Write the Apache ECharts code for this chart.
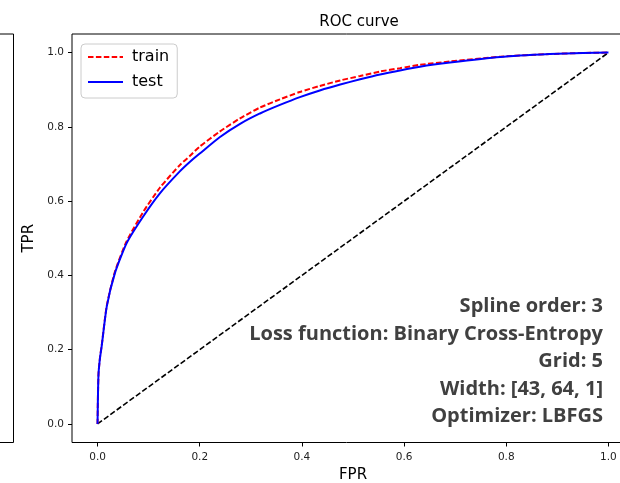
<!DOCTYPE html>
<html>
<head>
<meta charset="utf-8">
<title>ROC curve</title>
<script src="https://cdn.jsdelivr.net/npm/echarts@6/dist/echarts.min.js"></script>
<style>
  html, body { margin: 0; padding: 0; background: #fff; }
  #chart { width: 620px; height: 483px; }
</style>
</head>
<body>
<div id="chart"></div>
<script>
// ROC points for the training set
const fprTrain = [0, 0.0005, 0.001, 0.002, 0.005, 0.008, 0.018, 0.034, 0.057, 0.089, 0.122, 0.161, 0.181, 0.200, 0.239, 0.279, 0.318, 0.357, 0.396, 0.435, 0.475, 0.514, 0.553, 0.592, 0.631, 0.690, 0.788, 0.885, 0.950, 1];
const tprTrain = [0, 0.05, 0.09, 0.138, 0.182, 0.210, 0.318, 0.410, 0.492, 0.570, 0.636, 0.697, 0.722, 0.747, 0.787, 0.823, 0.852, 0.874, 0.894, 0.910, 0.925, 0.937, 0.949, 0.958, 0.967, 0.976, 0.989, 0.996, 0.999, 1];

// ROC points for the test set
const fprTest = [0, 0.0005, 0.001, 0.002, 0.005, 0.008, 0.018, 0.034, 0.057, 0.089, 0.122, 0.161, 0.181, 0.200, 0.239, 0.279, 0.318, 0.357, 0.396, 0.435, 0.475, 0.514, 0.553, 0.592, 0.631, 0.690, 0.788, 0.885, 0.950, 1];
const tprTest = [0, 0.05, 0.09, 0.137, 0.180, 0.208, 0.316, 0.406, 0.487, 0.558, 0.621, 0.680, 0.706, 0.728, 0.772, 0.808, 0.836, 0.859, 0.880, 0.898, 0.914, 0.928, 0.941, 0.952, 0.962, 0.973, 0.988, 0.996, 0.999, 1];

// chance line
const chanceFpr = [0, 1];
const chanceTpr = [0, 1];

const tickValues = [0, 0.2, 0.4, 0.6, 0.8, 1.0];

const infoLines = [
  'Spline order: 3',
  'Loss function: Binary Cross-Entropy',
  'Grid: 5',
  'Width: [43, 64, 1]',
  'Optimizer: LBFGS'
];

const pairs = (xs, ys) => xs.map((x, i) => [x, ys[i]]);

const tickFont = { fontFamily: 'DejaVu Sans', fontSize: 10.5, color: '#222' };
const dash = [5.5, 2.4];

const chart = echarts.init(document.getElementById('chart'), null, { renderer: 'canvas' });

chart.setOption({
  animation: false,
  backgroundColor: '#fff',
  title: {
    text: 'ROC curve',
    left: 354,
    top: 10,
    textAlign: 'center',
    textStyle: { fontFamily: 'DejaVu Sans', fontSize: 15, fontWeight: 'normal', color: '#000' }
  },
  legend: {
    orient: 'vertical',
    left: 81,
    top: 44,
    data: ['train', 'test'],
    itemWidth: 35,
    itemHeight: 14,
    itemGap: 9,
    padding: [5, 8, 8, 6],
    itemStyle: { opacity: 0 },
    backgroundColor: 'rgba(255,255,255,0.8)',
    borderColor: '#cccccc',
    borderWidth: 1,
    borderRadius: 4,
    textStyle: { fontFamily: 'DejaVu Sans', fontSize: 16, color: '#000', padding: [0, 0, 0, 4] }
  },
  grid: [
    {
      left: 72, top: 34, width: 562, height: 408.5,
      outerBoundsMode: 'none',
      show: true, borderColor: '#000', borderWidth: 1, backgroundColor: 'transparent'
    },
    {
      left: -100, top: 34, width: 113.5, height: 408.5,
      outerBoundsMode: 'none',
      show: true, borderColor: '#000', borderWidth: 1, backgroundColor: 'transparent'
    }
  ],
  xAxis: [
    {
      type: 'value', gridIndex: 0, min: -0.05, max: 1.05,
      name: 'FPR', nameLocation: 'middle', nameGap: 25,
      nameTextStyle: { fontFamily: 'DejaVu Sans', fontSize: 15, color: '#000' },
      axisLine: { show: false, onZero: false },
      axisTick: { show: true, length: 4, customValues: tickValues, lineStyle: { color: '#000' } },
      axisLabel: Object.assign({ customValues: tickValues, margin: 9, formatter: v => v.toFixed(1) }, tickFont),
      splitLine: { show: false }
    },
    { type: 'value', gridIndex: 1, show: false }
  ],
  yAxis: [
    {
      type: 'value', gridIndex: 0, min: -0.05, max: 1.05,
      name: 'TPR', nameLocation: 'middle', nameGap: 33, nameRotate: 90,
      nameTextStyle: { fontFamily: 'DejaVu Sans', fontSize: 15, color: '#000' },
      axisLine: { show: false, onZero: false },
      axisTick: { show: true, length: 4, customValues: tickValues, lineStyle: { color: '#000' } },
      axisLabel: Object.assign({ customValues: tickValues, margin: 8, formatter: v => v.toFixed(1) }, tickFont),
      splitLine: { show: false }
    },
    { type: 'value', gridIndex: 1, show: false }
  ],
  series: [
    {
      name: 'train', type: 'line', xAxisIndex: 0, yAxisIndex: 0,
      data: pairs(fprTrain, tprTrain),
      symbol: 'none', smooth: 0.2, z: 3,
      lineStyle: { color: '#ff0000', width: 2, type: dash },
      itemStyle: { color: '#ff0000' }
    },
    {
      name: 'test', type: 'line', xAxisIndex: 0, yAxisIndex: 0,
      data: pairs(fprTest, tprTest),
      symbol: 'none', smooth: 0.2, z: 4,
      lineStyle: { color: '#0000ff', width: 2, type: 'solid' },
      itemStyle: { color: '#0000ff' }
    },
    {
      name: 'chance', type: 'line', xAxisIndex: 0, yAxisIndex: 0,
      data: pairs(chanceFpr, chanceTpr),
      symbol: 'none', z: 2,
      lineStyle: { color: '#000', width: 1.6, type: dash }
    }
  ],
  graphic: [
    {
      type: 'text',
      x: 603,
      y: 293,
      z: 10,
      style: {
        text: infoLines.join('\n'),
        font: 'bold 20px "Open Sans"',
        align: 'right',
        verticalAlign: 'top',
        lineHeight: 27.5,
        fill: '#404040'
      }
    }
  ]
});
</script>
</body>
</html>
